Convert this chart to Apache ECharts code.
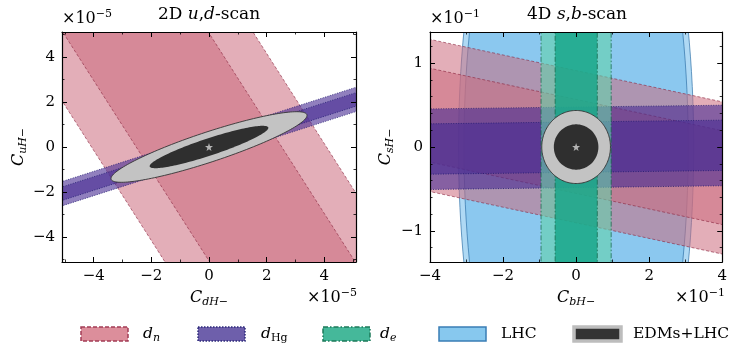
<!DOCTYPE html>
<html>
<head>
<meta charset="utf-8">
<script src="https://cdn.jsdelivr.net/npm/echarts@6/dist/echarts.min.js"></script>
<style>
  html, body { margin: 0; padding: 0; background: #fff; }
  #chart { width: 730px; height: 345px; }
</style>
</head>
<body>
<div id="chart"></div>
<script>
  // values in plot units: left panel x1e-5, right panel x1e-1
  // bands: [slope, lower intercept, upper intercept]
  var udDn1 = [-2, -5.05, 5.05]
  var udDn2 = [-2, -8.15, 8.15]
  var udHg1 = [0.41, -0.28, 0.32]
  var udHg2 = [0.41, -0.52, 0.56]
  // ellipses: [cx, cy, ux, uy, vx, vy]
  var udFit2 = [0, 0, 3.4, 1.4, 0, 0.7]
  var udFit1 = [0, 0, 2.06, 0.85, 0, 0.4]
  var udBest = [[0, 0]]

  var sbDn1 = [-0.093, -0.552, 0.566]
  var sbDn2 = [-0.093, -0.903, 0.91]
  var sbHg1 = [0.0055, -0.302, 0.298]
  var sbHg2 = [0.0055, -0.484, 0.476]
  // vertical bands: [left, right]
  var sbDe1 = [-0.575, 0.58]
  var sbDe2 = [-0.96, 0.96]
  var sbLhc1 = [0, 0, 3.07, 0, 0, 4.4]
  var sbLhc2 = [0, 0, 3.22, 0, 0, 4.6]
  var sbFit2 = [0, 0, 0.94, 0, 0, 0.435]
  var sbFit1 = [0, 0, 0.61, 0, 0, 0.27]
  var sbBest = [[0, 0]]

  // axes
  var udRange = [-5.1, 5.1]
  var udMajor = [-4, -2, 0, 2, 4]
  var udMinor = [-5, -3, -1, 1, 3, 5]
  var sbXRange = [-4, 4]
  var sbXMajor = [-4, -2, 0, 2, 4]
  var sbXMinor = [-3, -1, 1, 3]
  var sbYRange = [-1.37, 1.37]
  var sbYMajor = [-1, 0, 1]
  var sbYMinor = [-1.2, -0.8, -0.6, -0.4, -0.2, 0.2, 0.4, 0.6, 0.8, 1.2]

  var F = 'DejaVu Serif'

  var rich = {
    i: { fontFamily: F, fontStyle: 'italic', fontSize: 16, lineHeight: 20, color: '#000' },
    r: { fontFamily: F, fontSize: 16, lineHeight: 20, color: '#000' },
    li: { fontFamily: F, fontStyle: 'italic', fontSize: 15.5, lineHeight: 20, color: '#000' },
    lr: { fontFamily: F, fontSize: 15.5, lineHeight: 20, color: '#000' },
    ti: { fontFamily: F, fontStyle: 'italic', fontSize: 17, lineHeight: 20, color: '#000' },
    tr: { fontFamily: F, fontSize: 17, lineHeight: 20, color: '#000' },
    si: { fontFamily: F, fontStyle: 'italic', fontSize: 11, lineHeight: 11, verticalAlign: 'bottom', color: '#000' },
    sr: { fontFamily: F, fontSize: 11, lineHeight: 11, verticalAlign: 'bottom', color: '#000' },
    sup: { fontFamily: F, fontSize: 11, lineHeight: 11, verticalAlign: 'top', color: '#000' }
  }

  function minus(v) {
    return v < 0 ? '\u2212' + (-v) : String(v)
  }

  function axes(grid, dim, range, major, minor, name, nameGap) {
    var sides = dim === 'x' ? ['bottom', 'top'] : ['left', 'right']
    var out = []
    sides.forEach(function (side, k) {
      out.push({
        type: 'value', gridIndex: grid, position: side, min: range[0], max: range[1], z: 10,
        name: k === 0 ? name : '', nameLocation: 'middle', nameGap: nameGap,
        nameRotate: dim === 'y' ? 90 : 0,
        nameTextStyle: { rich: rich },
        axisLine: { show: true, onZero: false, lineStyle: { color: '#000', width: 1.2 } },
        axisTick: { show: true, inside: true, length: 5, customValues: major, lineStyle: { color: '#000', width: 1 } },
        axisLabel: { show: k === 0, customValues: major, formatter: minus, fontFamily: F, fontSize: 15, color: '#000', margin: 7 },
        splitLine: { show: false }
      })
    })
    sides.forEach(function (side) {
      out.push({
        type: 'value', gridIndex: grid, position: side, min: range[0], max: range[1], z: 10,
        axisLine: { show: false, onZero: false },
        axisTick: { show: true, inside: true, length: 2.5, customValues: minor, lineStyle: { color: '#000', width: 0.8 } },
        axisLabel: { show: false },
        splitLine: { show: false }
      })
    })
    return out
  }

  function band(b, xi, fill, stroke, dash, vertical) {
    return {
      type: 'custom', xAxisIndex: xi, yAxisIndex: xi, clip: true, silent: true,
      data: [b],
      renderItem: function (params, api) {
        var pts
        if (vertical) {
          var l = api.value(0), r = api.value(1)
          pts = [api.coord([l, -20]), api.coord([l, 20]), api.coord([r, 20]), api.coord([r, -20])]
        } else {
          var m = api.value(0), c1 = api.value(1), c2 = api.value(2)
          pts = [api.coord([-20, c1 - 20 * m]), api.coord([20, c1 + 20 * m]),
            api.coord([20, c2 + 20 * m]), api.coord([-20, c2 - 20 * m])]
        }
        var ls = { fill: null, stroke: stroke, lineWidth: 0.9, lineDash: dash }
        return {
          type: 'group',
          children: [
            { type: 'polygon', shape: { points: pts }, style: { fill: fill } },
            { type: 'polyline', shape: { points: [pts[0], pts[1]] }, style: ls },
            { type: 'polyline', shape: { points: [pts[2], pts[3]] }, style: ls }
          ]
        }
      }
    }
  }

  function ellipse(e, xi, fill, stroke, width) {
    return {
      type: 'custom', xAxisIndex: xi, yAxisIndex: xi, clip: true, silent: true,
      data: [e],
      renderItem: function (params, api) {
        var v = [0, 1, 2, 3, 4, 5].map(function (k) { return api.value(k) })
        var pts = []
        for (var n = 0; n < 160; n++) {
          var t = n / 160 * Math.PI * 2
          pts.push(api.coord([v[0] + v[2] * Math.cos(t) + v[4] * Math.sin(t),
            v[1] + v[3] * Math.cos(t) + v[5] * Math.sin(t)]))
        }
        return {
          type: 'polygon', shape: { points: pts },
          style: { fill: fill, stroke: stroke, lineWidth: width }
        }
      }
    }
  }

  var starPath = 'path://M0,-10L2.35,-3.24L9.51,-3.09L3.8,1.24L5.88,8.09L0,4L-5.88,8.09L-3.8,1.24L-9.51,-3.09L-2.35,-3.24Z'

  function best(d, xi) {
    return {
      type: 'scatter', xAxisIndex: xi, yAxisIndex: xi, data: d, symbol: starPath,
      symbolSize: 8, itemStyle: { color: '#d4d4d4' }, silent: true, z: 5
    }
  }

  var pinkFill = 'rgba(204,108,126,0.55)'
  var pinkLine = 'rgba(140,40,65,0.7)'
  var hgFill = 'rgba(72,44,146,0.6)'
  var hgLine = 'rgba(30,25,110,0.85)'
  var blueFill = 'rgba(110,185,235,0.55)'
  var blueLine = 'rgba(50,115,170,0.7)'
  var fitGray = '#c3c3c3'
  var fitDark = '#2f2f2f'

  var series = [
    band(udDn2, 0, pinkFill, pinkLine, [3, 2]),
    band(udDn1, 0, pinkFill, pinkLine, [3, 2]),
    band(udHg2, 0, hgFill, hgLine, [1, 1.5]),
    band(udHg1, 0, hgFill, hgLine, [1, 1.5]),
    ellipse(udFit2, 0, fitGray, '#333', 0.9),
    ellipse(udFit1, 0, fitDark, null, 0),
    best(udBest, 0),

    ellipse(sbLhc2, 4, blueFill, blueLine, 1),
    ellipse(sbLhc1, 4, blueFill, blueLine, 1),
    band(sbDn2, 4, pinkFill, pinkLine, [3, 2]),
    band(sbDn1, 4, pinkFill, pinkLine, [3, 2]),
    band(sbHg2, 4, hgFill, hgLine, [1, 1.5]),
    band(sbHg1, 4, hgFill, hgLine, [1, 1.5]),
    band(sbDe2, 4, 'rgba(100,210,170,0.6)', 'rgba(20,100,70,0.8)', [5, 2, 1.5, 2], true),
    band(sbDe1, 4, 'rgba(20,165,135,0.8)', 'rgba(20,100,70,0.8)', [5, 2, 1.5, 2], true),
    ellipse(sbFit2, 4, fitGray, '#333', 0.9),
    ellipse(sbFit1, 4, fitDark, null, 0),
    best(sbBest, 4)
  ]

  function label(x, y, text, align) {
    return {
      type: 'text', x: x, y: y, z: 20,
      style: { text: text, rich: rich, align: align || 'left', verticalAlign: 'middle' }
    }
  }

  function swatch(x, fill, stroke, width, dash) {
    return {
      type: 'rect', z: 20,
      shape: { x: x, y: 327, width: 47, height: 14 },
      style: { fill: fill, stroke: stroke, lineWidth: width, lineDash: dash }
    }
  }

  var graphics = [
    label(209, 15, '{tr|2D }{ti|u}{tr|,}{ti|d}{tr|-scan}', 'center'),
    label(577, 15, '{tr|4D }{ti|s}{tr|,}{ti|b}{tr|-scan}', 'center'),
    label(62, 19, '{r|\u00d710}{sup|\u22125}'),
    label(357, 298, '{r|\u00d710}{sup|\u22125}', 'right'),
    label(430, 19, '{r|\u00d710}{sup|\u22121}'),
    label(725, 298, '{r|\u00d710}{sup|\u22121}', 'right'),

    swatch(81, '#dc8e9b', '#a23d55', 1.5, [4, 2]),
    label(143, 334, '{li|d}{si|n}'),
    swatch(198, '#6e5fab', '#2c2a7a', 1.5, [1.5, 1.5]),
    label(261, 334, '{li|d}{sr|Hg}'),
    swatch(323, '#45b89a', '#1c7a5a', 1.5, [5, 2, 1.5, 2]),
    label(380, 334, '{li|d}{si|e}'),
    swatch(439, '#87c8ee', '#3a7db5', 1.5, null),
    label(501, 334, '{lr|LHC}'),
    swatch(574, '#333', '#bdbdbd', 3.5, null),
    label(633, 334, '{lr|EDMs+LHC}')
  ]

  var chart = echarts.init(document.getElementById('chart'))
  chart.setOption({
    backgroundColor: '#fff',
    animation: false,
    grid: [
      { left: 62, top: 32, width: 294, height: 230 },
      { left: 430, top: 32, width: 294, height: 230 }
    ],
    xAxis: [].concat(
      axes(0, 'x', udRange, udMajor, udMinor, '{i|C}{si|dH}{sr|\u2212}', 26),
      axes(1, 'x', sbXRange, sbXMajor, sbXMinor, '{i|C}{si|bH}{sr|\u2212}', 26)
    ),
    yAxis: [].concat(
      axes(0, 'y', udRange, udMajor, udMinor, '{i|C}{si|uH}{sr|\u2212}', 31),
      axes(1, 'y', sbYRange, sbYMajor, sbYMinor, '{i|C}{si|sH}{sr|\u2212}', 34)
    ),
    series: series,
    graphic: graphics
  })
</script>
</body>
</html>
